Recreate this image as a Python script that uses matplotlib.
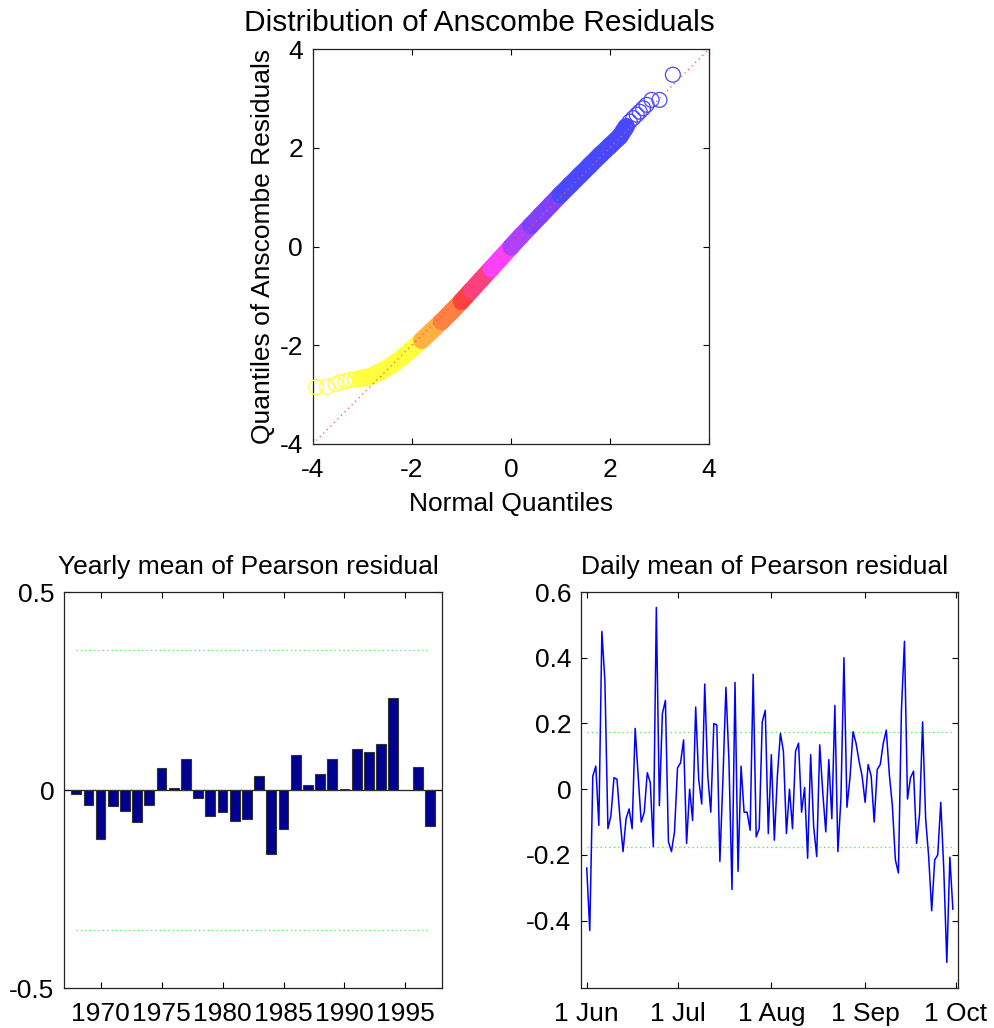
import numpy as np
import pandas as pd
import matplotlib
matplotlib.use("Agg")
import matplotlib.pyplot as plt
from matplotlib.collections import LineCollection
from matplotlib.colors import ListedColormap, BoundaryNorm

plt.rcParams["font.family"] = ["Liberation Sans", "DejaVu Sans"]
plt.rcParams["axes.unicode_minus"] = False

# --- QQ plot of Anscombe residuals ---
tail_lo_x = [-3.93, -3.71, -3.54, -3.44, -3.34, -3.24, -3.14]
tail_lo_y = [-2.85, -2.84, -2.79, -2.75, -2.73, -2.70, -2.69]
band_x = [-3.04, -2.9, -2.8, -2.6, -2.4, -2.2, -2.0, -1.8, -1.6, -1.4, -1.2, -1.0,
          -0.8, -0.6, -0.4, -0.2, 0.0, 0.2, 0.4, 0.6, 0.8, 1.0, 1.2, 1.4, 1.6, 1.8,
          2.0, 2.2, 2.33]
band_y = [-2.67, -2.65, -2.62, -2.52, -2.40, -2.25, -2.08, -1.90, -1.71, -1.52, -1.32, -1.11,
          -0.89, -0.67, -0.45, -0.23, -0.01, 0.21, 0.42, 0.63, 0.84, 1.05, 1.25, 1.45, 1.65, 1.85,
          2.04, 2.23, 2.43]
tail_hi_x = [2.40, 2.47, 2.54, 2.60, 2.67, 2.74, 2.84, 3.00, 3.27]
tail_hi_y = [2.53, 2.60, 2.67, 2.73, 2.80, 2.87, 2.97, 2.97, 3.48]

# --- yearly mean of Pearson residual ---
years = list(range(1968, 1998))
yearly_mean = [-0.010, -0.037, -0.123, -0.041, -0.053, -0.081, -0.039, 0.056, 0.006, 0.079,
               -0.021, -0.065, -0.055, -0.079, -0.074, 0.035, -0.162, -0.099, 0.089, 0.013,
               0.041, 0.078, 0.003, 0.103, 0.095, 0.115, 0.232, 0.001, 0.059, -0.090]
yearly_band = 0.353

# --- daily mean of Pearson residual, 1 Jun .. 30 Sep ---
daily_mean = [-0.24, -0.43, 0.04, 0.07, -0.11, 0.48, 0.33, -0.12, -0.08, 0.035,
              0.03, -0.09, -0.19, -0.09, -0.06, -0.12, 0.185, 0.04, -0.10, -0.07,
              0.05, 0.02, -0.175, 0.553, -0.05, 0.23, 0.27, -0.16, -0.19, -0.13,
              0.065, 0.08, 0.15, -0.165, 0.0, -0.095, 0.25, 0.03, -0.045, 0.32,
              0.04, -0.07, 0.20, 0.195, -0.22, 0.03, 0.31, 0.085, -0.305, 0.325,
              -0.25, 0.07, -0.07, -0.07, -0.125, 0.35, -0.145, -0.12, 0.205, 0.24,
              -0.135, 0.105, -0.155, 0.04, 0.17, 0.115, -0.135, 0.0, -0.12, 0.115,
              0.14, -0.07, 0.005, -0.21, 0.105, -0.115, -0.205, 0.135, -0.01, -0.13,
              0.09, -0.09, 0.255, -0.19, -0.03, 0.40, -0.055, 0.035, 0.175, 0.14,
              0.085, 0.04, -0.04, 0.075, 0.04, -0.10, 0.06, 0.075, 0.14, 0.18,
              0.045, -0.05, -0.215, -0.255, 0.24, 0.45, -0.03, 0.035, 0.055, -0.165,
              -0.075, 0.205, -0.09, -0.205, -0.37, -0.215, -0.20, -0.04, -0.245, -0.527,
              -0.207, -0.365]
daily_band = 0.175
month_ticks = ["2001-06-01", "2001-07-01", "2001-08-01", "2001-09-01", "2001-10-01"]
month_labels = ["1 Jun", "1 Jul", "1 Aug", "1 Sep", "1 Oct"]

FS = 19
qq_edges = [-10, -1.75, -1.35, -1.0, -0.72, -0.36, 0.05, 0.45, 0.92, 10]
qq_cmap = ListedColormap(["#ffff40", "#ffb040", "#ff8040", "#ff4040", "#ff4080",
                          "#ff40ff", "#b040ff", "#8040ff", "#4848ff"])
qq_norm = BoundaryNorm(qq_edges, qq_cmap.N)


def style(ax):
    ax.tick_params(direction="in", top=True, right=True, length=4, width=0.8,
                   labelsize=FS)
    ax.tick_params(axis="x", pad=10)
    ax.tick_params(axis="y", pad=7)
    for s in ax.spines.values():
        s.set_linewidth(0.9)
        s.set_color("#222222")


fig = plt.figure(figsize=(9.94, 10.28), dpi=100)

# QQ
ax = fig.add_axes([0.3146, 0.5681, 0.3987, 0.3842])
bx = np.array(band_x)
by = np.array(band_y)
pts = np.column_stack([bx, by])
segs = np.stack([pts[:-1], pts[1:]], axis=1)
mid = (bx[:-1] + bx[1:]) / 2
lc = LineCollection(segs, colors=qq_cmap(qq_norm(mid)), linewidths=12.5,
                    capstyle="round", joinstyle="round", zorder=2)
ax.add_collection(lc)
tx = np.array(tail_lo_x + tail_hi_x)
ty = np.array(tail_lo_y + tail_hi_y)
ax.scatter(tx, ty, s=115, facecolors="none", edgecolors=qq_cmap(qq_norm(tx)),
           linewidths=0.9, zorder=3, clip_on=False)
ax.plot([-4, 4], [-4, 4], linestyle=(0, (1, 3)), color="#ff5050", lw=0.9, zorder=4)
ax.set_xlim(-4, 4)
ax.set_ylim(-4, 4)
ax.set_xticks([-4, -2, 0, 2, 4])
ax.set_yticks([-4, -2, 0, 2, 4])
ax.set_title("Distribution of Anscombe Residuals", fontsize=21.5, pad=13, x=0.42)
ax.set_xlabel("Normal Quantiles", fontsize=FS, labelpad=7)
ax.set_ylabel("Quantiles of Anscombe Residuals", fontsize=FS, labelpad=3)
style(ax)

# yearly bars
ax = fig.add_axes([0.0644, 0.0389, 0.3803, 0.3852])
ax.axhline(0, color="#222222", lw=0.9, zorder=1)
ax.bar(years, yearly_mean, width=0.8, color="#000090", edgecolor="#333333",
       linewidth=0.8, zorder=2)
ax.hlines([yearly_band, -yearly_band], years[0], years[-1], colors="#40f040",
          linestyles=(0, (1, 2.5)), lw=0.9, zorder=3)
ax.set_xlim(1967, 1998)
ax.set_ylim(-0.5, 0.5)
ax.set_xticks([1970, 1975, 1980, 1985, 1990, 1995])
ax.set_yticks([-0.5, 0, 0.5])
ax.set_yticklabels(["-0.5", "0", "0.5"])
ax.set_title("Yearly mean of Pearson residual", fontsize=FS, pad=13, x=0.487)
style(ax)

# daily line
days = pd.date_range("2001-06-01", periods=len(daily_mean), freq="D")
ax = fig.add_axes([0.5845, 0.0389, 0.3793, 0.3852])
ax.plot(days, daily_mean, color="#0000ff", lw=1.1, zorder=3)
ax.hlines([daily_band, -daily_band], days[0], days[-1], colors="#40f040",
          linestyles=(0, (1, 2.5)), lw=0.9, zorder=2)
ax.set_xlim(days[0] - pd.Timedelta(days=1.9), days[0] + pd.Timedelta(days=122.7))
ax.set_ylim(-0.605, 0.6)
ax.set_xticks(pd.to_datetime(month_ticks))
ax.set_xticklabels(month_labels)
ax.set_yticks([-0.4, -0.2, 0, 0.2, 0.4, 0.6])
ax.set_yticklabels(["-0.4", "-0.2", "0", "0.2", "0.4", "0.6"])
ax.set_title("Daily mean of Pearson residual", fontsize=FS, pad=13, x=0.487)
style(ax)

fig.savefig("out.png", dpi=100)
